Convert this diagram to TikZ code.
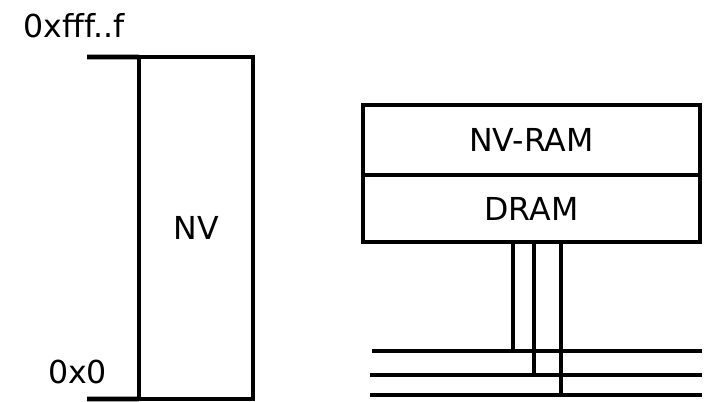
\documentclass[tikz,border=0pt]{standalone}
\usepackage{fontspec}
\setmainfont{DejaVu Sans}
\usetikzlibrary{positioning}
\tikzset{
  blk/.style={draw, line width=2.6pt, align=center, inner sep=0pt, outer sep=0pt,
              font=\fontsize{18}{21}\selectfont},
  wire/.style={line width=2.6pt},
  addr/.style={font=\fontsize{18}{21}\selectfont, inner sep=0pt},
}
\begin{document}
\begin{tikzpicture}
    \useasboundingbox (0,0) rectangle (14.14,-8.02);
    % address space
    \node[blk, minimum width=2.28cm, minimum height=6.84cm] (nv) at (3.92,-4.56) {NV};
    \coordinate (hi) at (1.74,-1.14);
    \coordinate (lo) at (1.74,-7.98);
    \draw[wire] (hi) -- (nv.north west);
    \draw[wire] (lo) -- (nv.south west);
    \node[addr] (top) at (1.48,-0.52) {0xfff..f};
    \node[addr] (bot) at (1.55,-7.44) {0x0};
    % memory module
    \node[blk, minimum width=6.74cm, minimum height=1.40cm] (nvram) at (10.63,-2.80) {NV-RAM};
    \node[blk, minimum width=6.74cm, minimum height=1.34cm, below=0pt of nvram] (dram) {DRAM};
    % bus
    \coordinate (b1w) at (7.44,-7.02); \coordinate (b1e) at (14.04,-7.02);
    \coordinate (b2w) at (7.40,-7.50); \coordinate (b2e) at (14.04,-7.50);
    \coordinate (b3w) at (7.40,-7.90); \coordinate (b3e) at (14.04,-7.90);
    \draw[wire] (b1w) -- (b1e);
    \draw[wire] (b2w) -- (b2e);
    \draw[wire] (b3w) -- (b3e);
    \draw[wire] (dram.south -| 10.26,0) -- (b1w -| 10.26,0);
    \draw[wire] (dram.south -| 10.68,0) -- (b2w -| 10.68,0);
    \draw[wire] (dram.south -| 11.22,0) -- (b3w -| 11.22,0);
  \end{tikzpicture}
\end{document}
